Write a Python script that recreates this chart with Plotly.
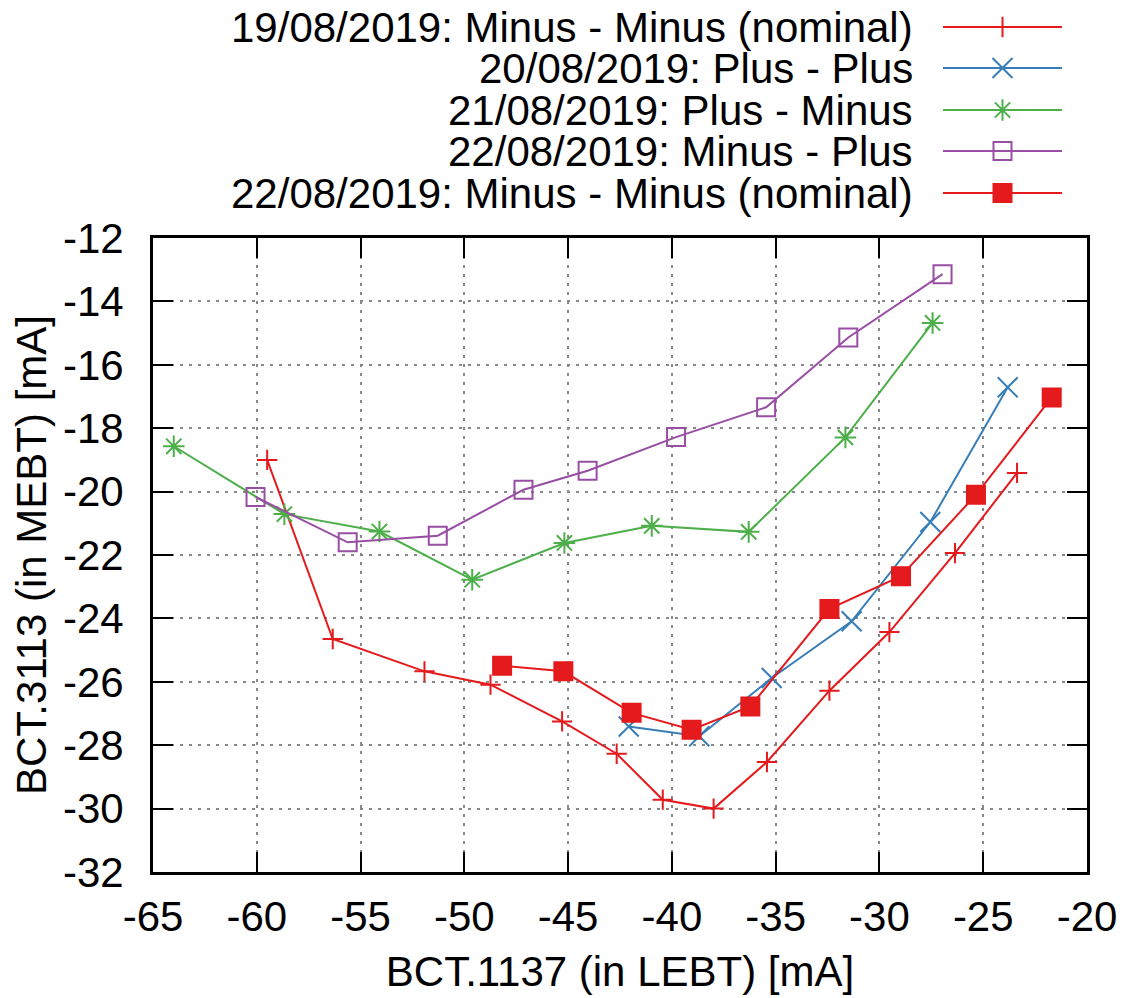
import plotly.graph_objects as go

# ---- data ----
names = [
    "19/08/2019: Minus - Minus (nominal)",
    "20/08/2019: Plus - Plus",
    "21/08/2019: Plus - Minus",
    "22/08/2019: Minus - Plus",
    "22/08/2019: Minus - Minus (nominal)",
]
x19 = [-59.5, -56.34, -51.92, -48.74, -45.29, -42.66, -40.44, -37.99, -35.42, -32.41, -29.52, -26.36, -23.37]
y19 = [-19.0, -24.65, -25.67, -26.09, -27.25, -28.27, -29.72, -30.0, -28.53, -26.28, -24.43, -21.94, -19.41]

x20 = [-42.08, -38.68, -35.19, -31.34, -27.55, -23.82]
y20 = [-27.41, -27.72, -25.88, -24.09, -20.96, -16.71]

x21 = [-64.0, -58.67, -54.09, -49.62, -45.18, -40.97, -36.3, -31.64, -27.44]
y21 = [-18.57, -20.71, -21.26, -22.78, -21.62, -21.08, -21.27, -18.29, -14.68]

x22mp = [-60.06, -55.62, -51.28, -47.15, -44.06, -39.8, -35.46, -31.5, -26.96]
y22mp = [-20.17, -21.6, -21.39, -19.94, -19.34, -18.28, -17.34, -15.14, -13.14]

x22mm = [-48.18, -45.23, -41.94, -39.05, -36.22, -32.41, -28.96, -25.35, -21.7]
y22mm = [-25.49, -25.67, -26.98, -27.51, -26.78, -23.7, -22.67, -20.1, -17.03]

xticks = [-65, -60, -55, -50, -45, -40, -35, -30, -25, -20]
yticks = [-32, -30, -28, -26, -24, -22, -20, -18, -16, -14, -12]

xs = [x19, x20, x21, x22mp, x22mm]
ys = [y19, y20, y21, y22mp, y22mm]

# ---- styles ----
colors = ["#e41a1c", "#377eb8", "#4daf4a", "#984ea3", "#e41a1c"]
symbols = ["cross-thin-open", "x-thin-open", "asterisk-open", "square-open", "square"]
msizes = [14.5, 20, 18, 18, 18]

FONT = "Liberation Sans, Arial, sans-serif"
FS = 42

fig = go.Figure()
for i in range(5):
    fig.add_trace(go.Scatter(
        x=xs[i], y=ys[i], mode="lines+markers", name=names[i],
        line=dict(color=colors[i], width=2),
        marker=dict(symbol=symbols[i], size=msizes[i], color=colors[i],
                    line=dict(color=colors[i], width=2)),
        showlegend=False, xaxis="x", yaxis="y",
    ))

# ---- custom legend (text left of sample, like gnuplot) on a pixel-space helper axis ----
leg_rows = [27, 68, 110, 151, 193]
for i in range(5):
    fig.add_trace(go.Scatter(
        x=[943, 1062], y=[leg_rows[i], leg_rows[i]], mode="lines",
        line=dict(color=colors[i], width=2), showlegend=False, hoverinfo="skip",
        xaxis="x2", yaxis="y2",
    ))
    fig.add_trace(go.Scatter(
        x=[1002.5], y=[leg_rows[i]], mode="markers",
        marker=dict(symbol=symbols[i], size=msizes[i], color=colors[i],
                    line=dict(color=colors[i], width=2)),
        showlegend=False, hoverinfo="skip", xaxis="x2", yaxis="y2",
    ))
    fig.add_annotation(x=915, y=leg_rows[i], xref="x2", yref="y2", text=names[i],
                       showarrow=False, xanchor="right", yanchor="middle",
                       font=dict(family=FONT, size=FS, color="black"))

T, B, L, R = 10, 126, 153, 35
H, W = 998, 1122
plot_h = H - T - B
ydom_top = (H - B - 238) / plot_h

axis_common = dict(
    showline=True, linecolor="black", linewidth=3, mirror="allticks",
    ticks="inside", ticklen=20, tickwidth=2, tickcolor="black",
    showgrid=True, gridcolor="#888888", gridwidth=1.5, griddash="3px,6px",
    zeroline=False, automargin=False,
    tickfont=dict(family=FONT, size=FS, color="black"),
    title_font=dict(family=FONT, size=FS, color="black"),
)

fig.update_layout(
    width=W, height=H, autosize=False,
    margin=dict(l=L, r=R, t=T, b=B, pad=0),
    paper_bgcolor="white", plot_bgcolor="white",
    xaxis=dict(range=[-65, -20], tickmode="array", tickvals=xticks,
               ticktext=[str(v) for v in xticks], domain=[0, 1],
               title=dict(text="BCT.1137 (in LEBT) [mA]", standoff=18),
               ticklabelstandoff=6, anchor="y", **axis_common),
    yaxis=dict(range=[-32, -12], tickmode="array", tickvals=yticks,
               ticktext=[str(v) for v in yticks], domain=[0, ydom_top],
               title=dict(text="BCT.3113 (in MEBT) [mA]", standoff=4),
               ticklabelstandoff=18, anchor="x", **axis_common),
    xaxis2=dict(range=[L, W - R], domain=[0, 1], visible=False, anchor="y2",
                fixedrange=True, automargin=False),
    yaxis2=dict(range=[238, T], domain=[ydom_top, 1], visible=False, anchor="x2",
                fixedrange=True, automargin=False),
)

fig.write_html("out.html")
